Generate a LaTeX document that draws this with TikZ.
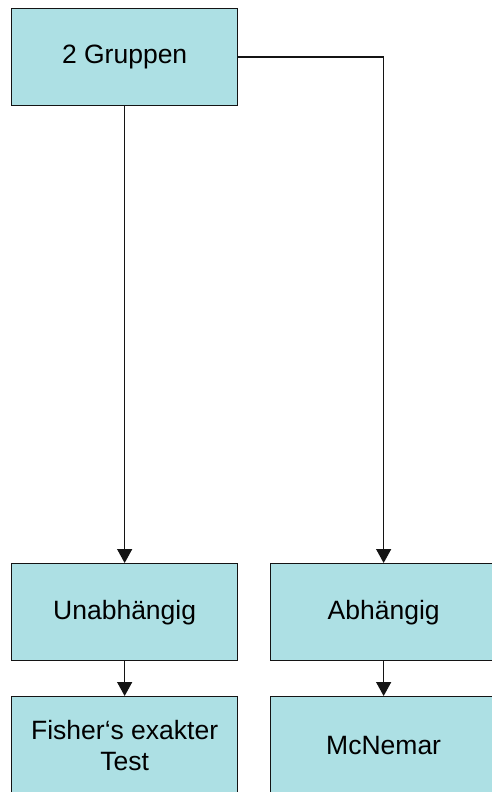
\documentclass[tikz,border=0pt]{standalone}
\usepackage{fontspec}
\setmainfont{Liberation Sans}
\usetikzlibrary{arrows.meta}
\definecolor{boxfill}{RGB}{173,224,228}
\definecolor{linegray}{RGB}{20,20,20}
\tikzset{
  flowbox/.style={draw=linegray, line width=1.3pt, fill=boxfill, minimum width=226pt, minimum height=97pt, inner sep=0pt, align=center, font=\fontsize{26.5pt}{31pt}\selectfont, anchor=north west},
  conn/.style={draw=linegray, line width=1.4pt, -{Triangle[width=15pt,length=14pt]}}
}
\begin{document}
\begin{tikzpicture}[x=1pt,y=-1pt]
\useasboundingbox (0,0) rectangle (492,792);
\node[flowbox] (g) at (11,8) {2 Gruppen};
\node[flowbox] (u) at (11,563) {Unabhängig};
\node[flowbox] (a) at (270,563) {Abhängig};
\node[flowbox] (f) at (11,696) {Fisher‘s exakter\\Test};
\node[flowbox] (m) at (270,696) {McNemar};
\draw[conn] (g.south) -- (u.north);
\draw[conn] (g.east) -| (a.north);
\draw[conn] (u.south) -- (f.north);
\draw[conn] (a.south) -- (m.north);
\end{tikzpicture}
\end{document}
